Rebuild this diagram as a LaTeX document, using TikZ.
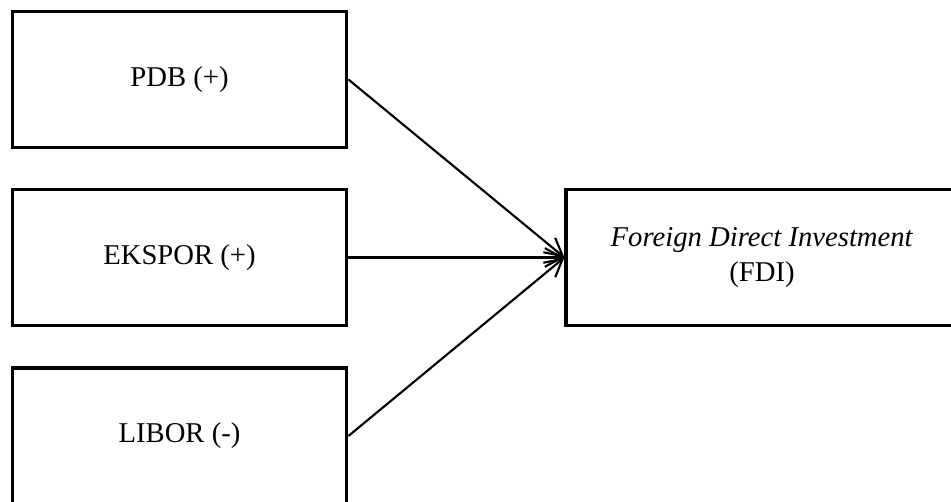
\documentclass[tikz,border=0pt]{standalone}
\usepackage{fontspec}
\setmainfont{Liberation Serif}
\usetikzlibrary{arrows.meta}
\tikzset{
  varbox/.style={draw, line width=2.4pt, rectangle, align=center,
    minimum width=251pt, minimum height=102pt, inner sep=0pt,
    font=\fontsize{21.5}{26}\selectfont},
  link/.style={-{Straight Barb[length=13pt,width=14pt]}, line width=1.6pt}
}

\begin{document}
\begin{tikzpicture}[x=0.75pt, y=0.75pt]
    \clip (0,0) rectangle (951,502);
    \node[varbox] (pdb) at (179.5,422.5) {PDB (+)};
    \node[varbox] (ekspor) at (179.5,244.5) {EKSPOR (+)};
    \node[varbox] (libor) at (179.5,66) {LIBOR (-)};
    \node[varbox, minimum width=294pt] (fdi) at (762,244.5)
        {\textit{Foreign Direct Investment}\\(FDI)};
    \draw[link] (pdb.east) -- (fdi.west);
    \draw[link] (ekspor.east) -- (fdi.west);
    \draw[link] (libor.east) -- (fdi.west);
\end{tikzpicture}
\end{document}
